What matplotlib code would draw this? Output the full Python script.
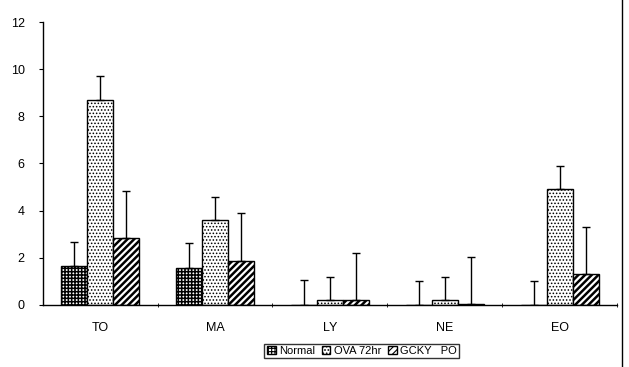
import matplotlib
matplotlib.use('Agg')
import matplotlib.pyplot as plt
import numpy as np
from matplotlib.lines import Line2D

plt.rcParams['font.family'] = ['Liberation Sans', 'DejaVu Sans']

# data
categories = ['TO', 'MA', 'LY', 'NE', 'EO']
series_names = ['Normal', 'OVA 72hr', 'GCKY   PO']
normal_vals = [1.65, 1.58, 0.0, 0.0, 0.0]
normal_err = [1.0, 1.05, 1.05, 1.0, 1.0]
ova_vals = [8.7, 3.6, 0.2, 0.2, 4.9]
ova_err = [1.0, 1.0, 1.0, 1.0, 1.0]
gcky_vals = [2.85, 1.88, 0.2, 0.05, 1.3]
gcky_err = [2.0, 2.0, 2.0, 2.0, 2.0]
y_ticks = [0, 2, 4, 6, 8, 10, 12]

fig = plt.figure(figsize=(6.29, 3.67), dpi=100)
ax = fig.add_axes([0.068, 0.169, 0.913, 0.771])

ind = np.arange(len(categories))
width = 0.226
hatch_lst = ['+++++', '.....', '/////']
hatch_lw = [1.1, 0.7, 1.8]
vals_lst = [normal_vals, ova_vals, gcky_vals]
err_lst = [normal_err, ova_err, gcky_err]

for idx in range(3):
    pos = ind + (idx - 1) * width
    plt.rcParams['hatch.linewidth'] = hatch_lw[idx]
    ax.bar(pos, vals_lst[idx], width, color='white', edgecolor='black',
           hatch=hatch_lst[idx], linewidth=1.0, label=series_names[idx])
    ax.errorbar(pos, vals_lst[idx], yerr=[np.zeros(len(pos)), err_lst[idx]],
                fmt='none', ecolor='black', elinewidth=1.0, capsize=3, capthick=1.0)

ax.set_xlim(-0.5, len(categories) - 0.5)
ax.set_ylim(0, 12)
ax.set_yticks(y_ticks)
ax.set_yticklabels([str(t) for t in y_ticks], fontsize=9)
ax.set_xticks(ind)
ax.set_xticklabels(categories, fontsize=9)
ax.tick_params(axis='x', length=0, pad=12)
ax.tick_params(axis='y', length=3, direction='out', pad=10)
ax.set_xticks(np.arange(len(categories)) + 0.5, minor=True)
ax.tick_params(axis='x', which='minor', length=3, direction='inout')

ax.spines['top'].set_visible(False)
ax.spines['right'].set_visible(False)
ax.spines['left'].set_linewidth(1.0)
ax.spines['bottom'].set_linewidth(1.0)

plt.rcParams['hatch.linewidth'] = 0.8
leg = fig.legend(loc='center', bbox_to_anchor=(0.575, 0.044), ncol=3, fontsize=8,
                 frameon=True, fancybox=False, edgecolor='black', handlelength=0.8,
                 handleheight=0.8, handletextpad=0.3, columnspacing=0.6,
                 borderpad=0.2)
leg.get_frame().set_linewidth(1.0)

# right border line from the scan
fig.add_artist(Line2D([0.989, 0.989], [0.0, 1.0], color='black', linewidth=1.0))

fig.savefig('out.png', dpi=100)
